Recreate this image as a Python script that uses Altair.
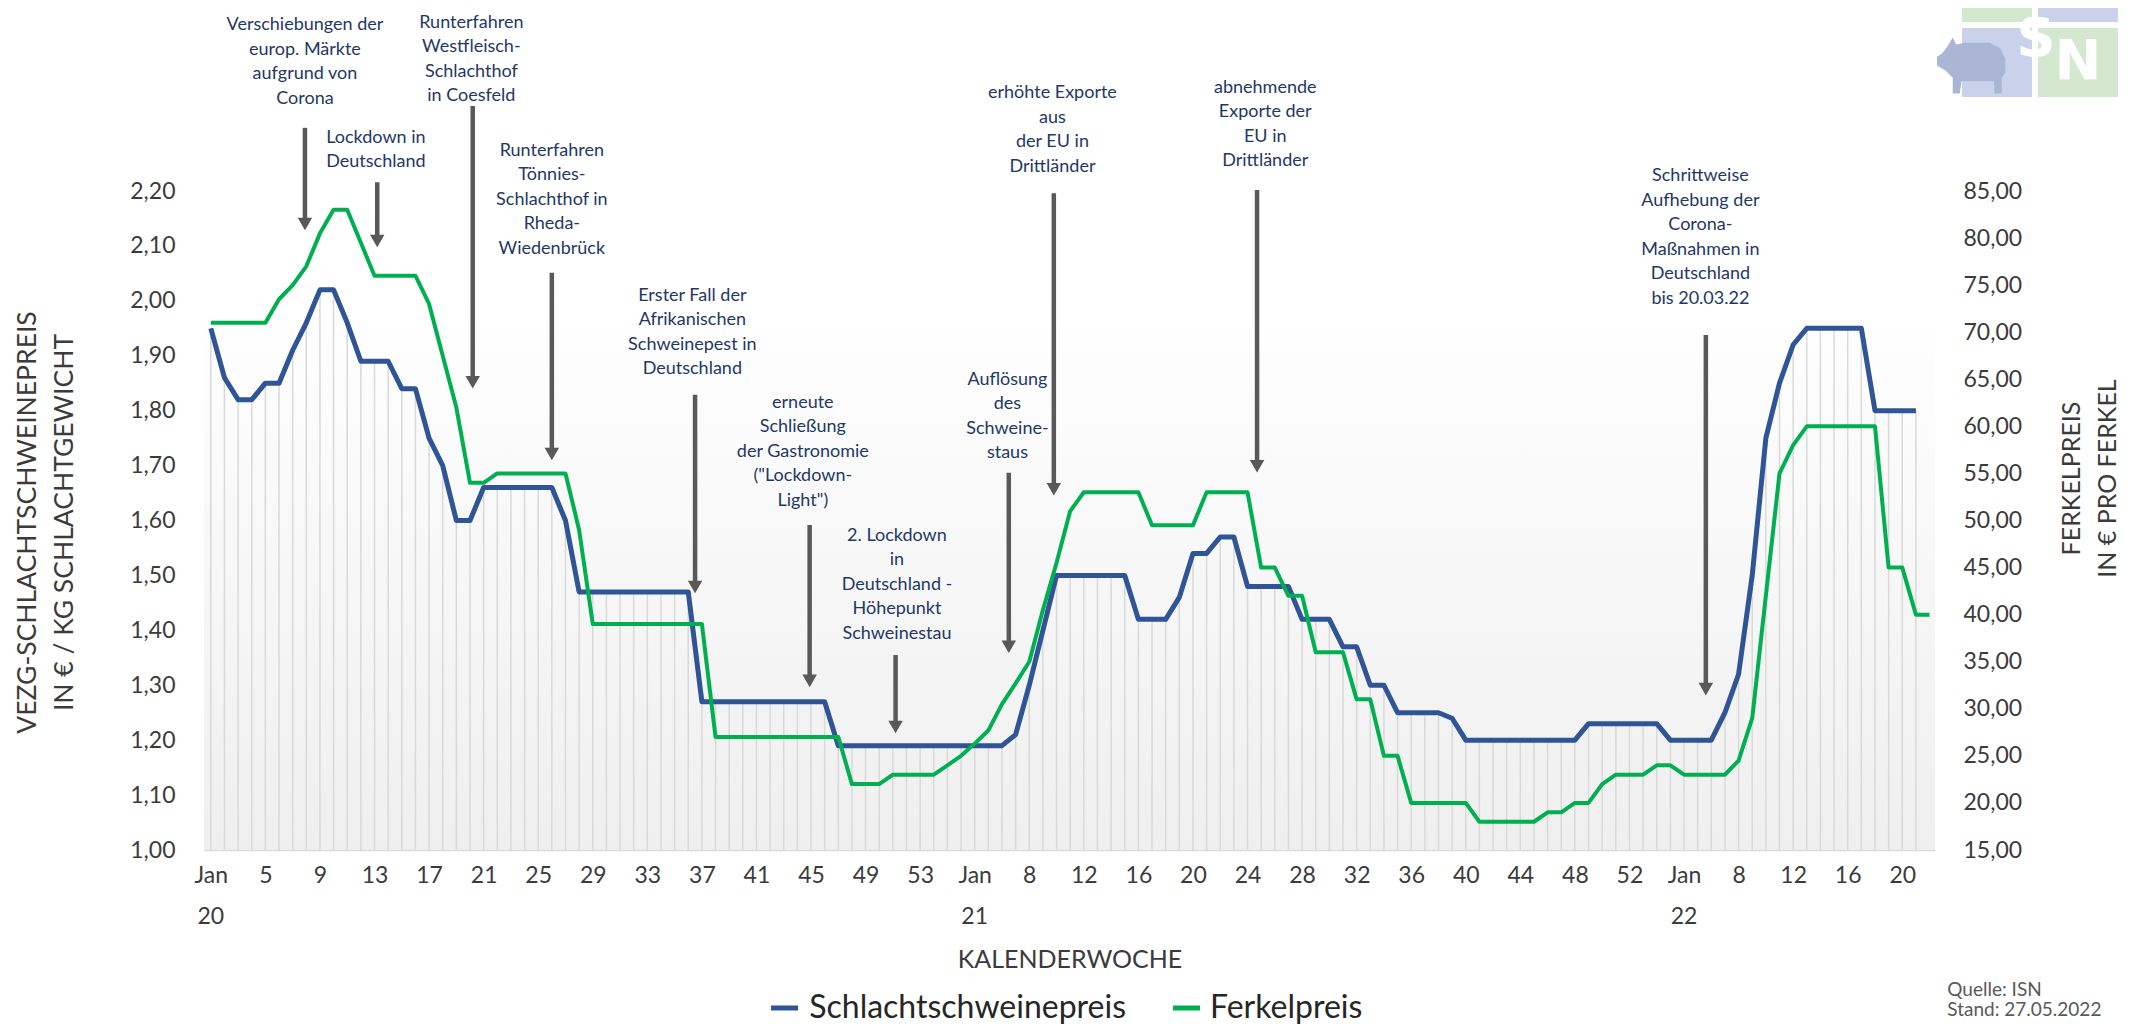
import altair as alt
import pandas as pd

# ---------------- data ----------------
blue_values = [
    1.95, 1.86, 1.82, 1.82, 1.85, 1.85, 1.91, 1.96, 2.02, 2.02,
    1.96, 1.89, 1.89, 1.89, 1.84, 1.84, 1.75, 1.70, 1.60, 1.60,
    1.66, 1.66, 1.66, 1.66, 1.66, 1.66, 1.60, 1.47, 1.47, 1.47,
    1.47, 1.47, 1.47, 1.47, 1.47, 1.47, 1.27, 1.27, 1.27, 1.27,
    1.27, 1.27, 1.27, 1.27, 1.27, 1.27, 1.19, 1.19, 1.19, 1.19,
    1.19, 1.19, 1.19, 1.19, 1.19, 1.19, 1.19, 1.19, 1.19, 1.21,
    1.30, 1.40, 1.50, 1.50, 1.50, 1.50, 1.50, 1.50, 1.42, 1.42,
    1.42, 1.46, 1.54, 1.54, 1.57, 1.57, 1.48, 1.48, 1.48, 1.48,
    1.42, 1.42, 1.42, 1.37, 1.37, 1.30, 1.30, 1.25, 1.25, 1.25,
    1.25, 1.24, 1.20, 1.20, 1.20, 1.20, 1.20, 1.20, 1.20, 1.20,
    1.20, 1.23, 1.23, 1.23, 1.23, 1.23, 1.23, 1.20, 1.20, 1.20,
    1.20, 1.25, 1.32, 1.50, 1.75, 1.85, 1.92, 1.95, 1.95, 1.95,
    1.95, 1.95, 1.80, 1.80, 1.80, 1.80,
]
green_values = [
    71.0, 71.0, 71.0, 71.0, 71.0, 73.5, 75.0, 77.0, 80.5, 83.0,
    83.0, 79.5, 76.0, 76.0, 76.0, 76.0, 73.0, 67.5, 62.0, 54.0,
    54.0, 55.0, 55.0, 55.0, 55.0, 55.0, 55.0, 49.0, 39.0, 39.0,
    39.0, 39.0, 39.0, 39.0, 39.0, 39.0, 39.0, 27.0, 27.0, 27.0,
    27.0, 27.0, 27.0, 27.0, 27.0, 27.0, 27.0, 22.0, 22.0, 22.0,
    23.0, 23.0, 23.0, 23.0, 24.0, 25.0, 26.3, 27.7, 30.5, 32.7,
    35.0, 40.5, 45.5, 51.0, 53.0, 53.0, 53.0, 53.0, 53.0, 49.5,
    49.5, 49.5, 49.5, 53.0, 53.0, 53.0, 53.0, 45.0, 45.0, 42.0,
    42.0, 36.0, 36.0, 36.0, 31.0, 31.0, 25.0, 25.0, 20.0, 20.0,
    20.0, 20.0, 20.0, 18.0, 18.0, 18.0, 18.0, 18.0, 19.0, 19.0,
    20.0, 20.0, 22.0, 23.0, 23.0, 23.0, 24.0, 24.0, 23.0, 23.0,
    23.0, 23.0, 24.5, 29.0, 42.0, 55.0, 58.0, 60.0, 60.0, 60.0,
    60.0, 60.0, 60.0, 45.0, 45.0, 40.0, 40.0,
]
tick_labels = [
    "Jan", "5", "9", "13", "17", "21", "25", "29", "33", "37", "41", "45", "49", "53",
    "Jan", "8", "12", "16", "20", "24", "28", "32", "36", "40", "44", "48", "52",
    "Jan", "8", "12", "16", "20",
]
year_labels = ["20", "21", "22"]
year_index = [0, 56, 108]

ann_texts = [
    "Verschiebungen der\neurop. Märkte\naufgrund von\nCorona",
    "Lockdown in\nDeutschland",
    "Runterfahren\nWestfleisch-\nSchlachthof\nin Coesfeld",
    "Runterfahren\nTönnies-\nSchlachthof in\nRheda-\nWiedenbrück",
    "Erster Fall der\nAfrikanischen\nSchweinepest in\nDeutschland",
    "erneute\nSchließung\nder Gastronomie\n(\"Lockdown-\nLight\")",
    "2. Lockdown\nin\nDeutschland -\nHöhepunkt\nSchweinestau",
    "Auflösung\ndes\nSchweine-\nstaus",
    "erhöhte Exporte\naus\nder EU in\nDrittländer",
    "abnehmende\nExporte der\nEU in\nDrittländer",
    "Schrittweise\nAufhebung der\nCorona-\nMaßnahmen in\nDeutschland\nbis 20.03.22",
]
# first-line position of each note (x in weeks from Jan 2020, y in €/kg units)
ann_text_x = [6.9, 12.1, 19.1, 25.0, 35.3, 43.4, 50.3, 58.4, 61.7, 77.3, 109.2]
ann_text_y = [2.502, 2.297, 2.506, 2.273, 2.009, 1.814, 1.572, 1.856, 2.378, 2.388, 2.227]
arrow_x = [6.9, 12.2, 19.2, 25.0, 35.5, 43.9, 50.2, 58.5, 61.8, 76.7, 109.6]
arrow_top = [2.315, 2.216, 2.355, 2.051, 1.829, 1.592, 1.355, 1.687, 2.196, 2.202, 1.938]
arrow_tip = [2.129, 2.098, 1.841, 1.710, 1.468, 1.297, 1.213, 1.359, 1.646, 1.688, 1.282]

series_names = ["Schlachtschweinepreis", "Ferkelpreis"]
source_lines = ["Quelle: ISN", "Stand: 27.05.2022"]

# ---------------- styling constants ----------------
W, H = 1731, 659
BLUE = "#2F5597"
GREEN = "#00B050"
NAVY = "#1F3864"
ARROW = "#595959"
LABEL = "#3b3b3b"
FONT = "Lato"

xs = alt.Scale(domain=[-0.5, 126.4], nice=False, zero=False)
yl = alt.Scale(domain=[1.0, 2.2], nice=False, zero=False)
yr = alt.Scale(domain=[15, 85], nice=False, zero=False)

blue_df = pd.DataFrame({"i": list(range(len(blue_values))), "v": blue_values})
green_df = pd.DataFrame({"i": list(range(len(green_values))), "v": green_values})
ann_df = pd.DataFrame({"x": ann_text_x, "y": ann_text_y, "t": ann_texts})
arr_df = pd.DataFrame({"x": arrow_x, "top": arrow_top, "tip": arrow_tip})
year_df = pd.DataFrame({"x": year_index, "t": year_labels})

label_js = "[" + ",".join("'" + s + "'" for s in tick_labels) + "]"


def X(field):
    return alt.X(field, type="quantitative", scale=xs, axis=None)


def YL(field):
    return alt.Y(field, type="quantitative", scale=yl, axis=None)


def YD(v):
    return alt.Y(datum=v, scale=yl, axis=None)


one = pd.DataFrame({"a": [0]})

bg = alt.Chart(one).mark_rect(
    fill=alt.LinearGradient(
        gradient="linear",
        stops=[alt.GradientStop(color="#ffffff", offset=0),
               alt.GradientStop(color="#efefef", offset=1)],
        x1=0, x2=0, y1=0, y2=1,
    )
).encode(x=alt.value(0), x2=alt.value(W), y=YD(2.0), y2=alt.datum(1.0))

drops = alt.Chart(blue_df).mark_rule(color="#d9d9d9", strokeWidth=1.5).encode(
    x=X("i"), y=YL("v"), y2=alt.datum(1.0)
)

blue_line = alt.Chart(blue_df).mark_line(color=BLUE, strokeWidth=5, strokeJoin="round").encode(
    x=alt.X("i:Q", scale=xs, title="KALENDERWOCHE",
            axis=alt.Axis(values=list(range(0, 125, 4)), labelExpr=label_js + "[round(datum.value/4)]",
                          grid=False, ticks=False, tickSize=0, domain=True, domainColor="#d9d9d9",
                          domainWidth=1.5, labelFontSize=23, labelColor=LABEL, labelPadding=14,
                          labelOverlap=False, labelFlush=False, labelBound=False,
                          titleFontSize=25, titleColor=LABEL, titleFontWeight="normal",
                          titleY=109, titleBaseline="middle")),
    y=alt.Y("v:Q", scale=yl,
            title=["VEZG-SCHLACHTSCHWEINEPREIS", "IN € / KG SCHLACHTGEWICHT"],
            axis=alt.Axis(values=[1.0, 1.1, 1.2, 1.3, 1.4, 1.5, 1.6, 1.7, 1.8, 1.9, 2.0, 2.1, 2.2],
                          labelExpr="replace(format(datum.value, '.2f'), '.', ',')",
                          grid=False, ticks=False, tickSize=0, domain=False,
                          labelFontSize=23, labelColor=LABEL, labelPadding=29,
                          labelOverlap=False, labelFlush=False, labelBound=False,
                          titleFontSize=26.5, titleColor=LABEL, titleFontWeight="normal",
                          titleAngle=270, titleX=-177, titleY=331, titleAlign="center",
                          titleBaseline="middle", titleLineHeight=37)),
)

arrows = alt.Chart(arr_df).transform_calculate(head="datum.tip + 7/549.17").mark_rule(
    color=ARROW, strokeWidth=4.5
).encode(x=X("x"), y=YL("top"), y2="head:Q")

heads = alt.Chart(arr_df).mark_point(
    shape="triangle-down", filled=True, color=ARROW, size=210, opacity=1, yOffset=-6
).encode(x=X("x"), y=YL("tip"))

ann = alt.Chart(ann_df).mark_text(
    font=FONT, fontSize=18, color=NAVY, lineBreak="\n", lineHeight=24.5,
    align="center", baseline="middle"
).encode(x=X("x"), y=YL("y"), text="t:N")

years = alt.Chart(year_df).mark_text(
    font=FONT, fontSize=23, color=LABEL, align="center", baseline="middle"
).encode(x=X("x"), y=YD(0.878), text="t:N")

leg_df = pd.DataFrame({"x1": [41.07, 70.54], "x2": [43.05, 72.52], "tx": [43.87, 73.25], "t": series_names})
leg_blue = alt.Chart(leg_df.iloc[[0]]).mark_rule(color=BLUE, strokeWidth=5).encode(
    x=X("x1"), x2="x2:Q", y=YD(0.7123))
leg_green = alt.Chart(leg_df.iloc[[1]]).mark_rule(color=GREEN, strokeWidth=5).encode(
    x=X("x1"), x2="x2:Q", y=YD(0.7123))
leg_text = alt.Chart(leg_df).mark_text(
    font=FONT, fontSize=32, color="#262626", align="left", baseline="middle"
).encode(x=X("tx"), y=YD(0.7123), text="t:N")

src_df = pd.DataFrame({"x": [127.3, 127.3], "y": [0.7451, 0.7087], "t": source_lines})
src = alt.Chart(src_df).mark_text(
    font=FONT, fontSize=19, color="#595959", align="left", baseline="middle"
).encode(x=X("x"), y=YL("y"), text="t:N")


# ---- simplified ISN logo (decoration, top right, pixel placed) ----
def block(x1, y1, x2, y2, color):
    return alt.Chart(one).mark_rect(color=color).encode(
        x=alt.value(x1 - 204), x2=alt.value(x2 - 204), y=alt.value(y1 - 191), y2=alt.value(y2 - 191))


def letter(x, y, t, size):
    return alt.Chart(one).mark_text(
        text=t, font="DejaVu Sans", fontWeight="bold", fontSize=size, color="white",
        align="center", baseline="middle"
    ).encode(x=alt.value(x - 204), y=alt.value(y - 191))


PIG = ("M -1,-0.15 L -0.85,-0.25 L -0.7,-0.45 L -0.55,-0.7 L -0.45,-0.5 L -0.2,-0.55 "
       "L 0.5,-0.55 L 0.8,-0.4 L 0.95,-0.1 L 0.95,0.3 L 0.85,0.45 L 0.85,0.9 L 0.65,0.9 "
       "L 0.62,0.55 L -0.3,0.55 L -0.35,0.9 L -0.55,0.9 L -0.55,0.45 L -0.75,0.25 L -1,0.1 Z")

LB, LG = "#c9d2ea", "#d3e8cf"
logo = [
    block(1962, 0, 2032, 22, LG),
    block(2038, 0, 2118, 22, LB),
    block(1962, 28, 2032, 97, LB),
    block(2038, 28, 2118, 97, LG),
    letter(2036, 40, "S", 54),
    letter(2078, 62, "N", 56),
    alt.Chart(one).mark_point(shape=PIG, filled=True, color="#aab6d3", opacity=1, size=4900).encode(
        x=alt.value(1972 - 204), y=alt.value(62 - 191)),
]

green_line = alt.Chart(green_df).mark_line(color=GREEN, strokeWidth=4, strokeJoin="round").encode(
    x=X("i"),
    y=alt.Y("v:Q", scale=yr, title=["FERKELPREIS", "IN € PRO FERKEL"],
            axis=alt.Axis(orient="right", values=list(range(15, 90, 5)),
                          labelExpr="replace(format(datum.value, '.2f'), '.', ',')",
                          grid=False, ticks=False, tickSize=0, domain=False,
                          labelFontSize=23, labelColor=LABEL, labelPadding=28,
                          labelOverlap=False, labelFlush=False, labelBound=False,
                          titleFontSize=25, titleColor=LABEL, titleFontWeight="normal",
                          titleAngle=270, titleX=136, titleY=287, titleAlign="center",
                          titleBaseline="middle", titleLineHeight=36)),
)

layers = [bg, drops, blue_line, arrows, heads, ann, years, leg_blue, leg_green, leg_text, src] + logo + [green_line]

chart = alt.layer(*layers).resolve_scale(y="independent").resolve_axis(
    x="independent", y="independent"
).properties(
    width=W, height=H,
    autosize=alt.AutoSizeParams(type="none"),
    padding={"left": 196, "top": 183, "right": 190, "bottom": 178},
    background="white",
).configure(font=FONT).configure_view(stroke=None)

chart.save("out.html", embed_options={"renderer": "svg", "actions": False})
